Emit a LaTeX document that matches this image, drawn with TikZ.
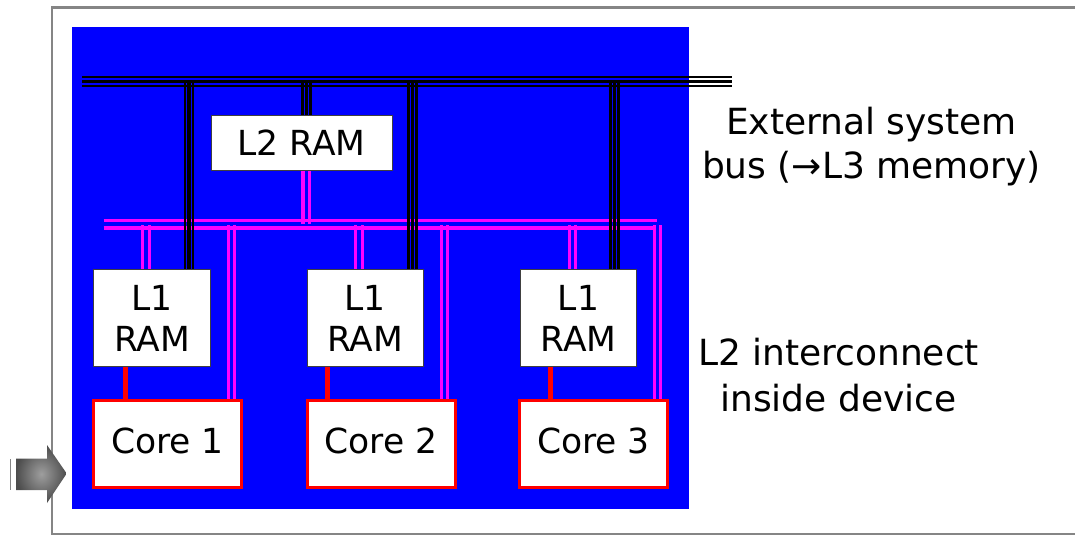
\documentclass[tikz,border=0pt]{standalone}
\usepackage{fontspec}
\setmainfont{DejaVu Sans}
\pgfdeclarelayer{background}
\pgfsetlayers{background,main}
\definecolor{framegray}{HTML}{858585}
\definecolor{chipblue}{HTML}{0000FF}
\definecolor{magpink}{HTML}{FF00FF}
\definecolor{corered}{HTML}{FF0000}
\definecolor{boxedge}{HTML}{404040}
\tikzset{
  ramnode/.style={draw=boxedge, line width=1pt, fill=white, inner sep=0pt,
    font=\fontsize{34.5}{41}\selectfont, align=center},
  corenode/.style={draw=corered, line width=3pt, fill=white, inner sep=0pt,
    minimum width=148pt, minimum height=87pt, text height=25pt, text depth=6pt,
    font=\fontsize{34.5}{41}\selectfont},
  sidelabel/.style={font=\fontsize{36}{44}\selectfont, anchor=base, inner sep=0pt},
  magline/.style={draw=magpink, line width=3.1pt},
  busthin/.style={draw=black, line width=2.1pt},
  busthick/.style={draw=black, line width=3.8pt},
  redlink/.style={draw=corered, line width=5pt},
  framestyle/.style={draw=framegray, line width=2.5pt},
}
\begin{document}
\begin{tikzpicture}[x=1pt,y=-1pt]
\useasboundingbox (0,0) rectangle (1075,535);

% boxes
\node[ramnode, minimum width=181pt, minimum height=55pt] (l2) at (301.5,143) {L2 RAM};
\node[ramnode, minimum width=117pt, minimum height=97pt] (l1a) at (152,318) {L1\\RAM};
\node[ramnode, minimum width=116pt, minimum height=97pt] (l1b) at (365,318) {L1\\RAM};
\node[ramnode, minimum width=116pt, minimum height=97pt] (l1c) at (578.5,318) {L1\\RAM};
\node[corenode] (c1) at (167.5,444) {Core 1};
\node[corenode] (c2) at (381,444) {Core 2};
\node[corenode] (c3) at (593.5,444) {Core 3};

% side labels
\node[sidelabel] (ext1) at (871.5,134) {External system};
\node[sidelabel] (ext2) at (871.5,178) {bus (→L3 memory)};
\node[sidelabel] (int1) at (838.5,365.7) {L2 interconnect};
\node[sidelabel] (int2) at (838.5,411.7) {inside device};

\begin{pgfonlayer}{background}
  % slide frame
  \draw[framestyle] (1078,7.5) -- (52,7.5) -- (52,533.8) -- (1078,533.8);
  % device
  \node[fill=chipblue, inner sep=0pt, minimum width=617pt, minimum height=482pt] (chip) at (380.5,268) {};

  % L2 interconnect (magenta)
  \coordinate (hbL) at (103.7,224.4);
  \coordinate (hbR) at (656,224.4);
  \draw[magline] ([yshift=3.7pt]hbL) -- ([yshift=3.7pt,xshift=1pt]hbR);
  \draw[magline] ([yshift=-3.6pt]hbL) -- ([yshift=-3.6pt,xshift=-1pt]hbR);
  \foreach \dx in {1.5,8}{
    \coordinate (mt) at ([xshift=\dx pt]l2.south);
    \draw[magline] (mt) -- (mt |- hbL);
  }
  \foreach \cx/\tgt in {146/l1a, 231.5/c1, 359/l1b, 444.5/c2, 572.5/l1c, 657.5/c3}{
    \foreach \dx in {-3.4,3.4}{
      \coordinate (mt) at ({\cx+\dx},225);
      \draw[magline] (mt) -- (mt |- \tgt.north);
    }
  }

  % external system bus (black)
  \coordinate (busL) at (82,81.5);
  \coordinate (busR) at (732,81.5);
  \draw[busthin] ([yshift=4.7pt]busL) -- ([yshift=4.7pt]busR);
  \draw[busthick] (busL) -- (busR);
  \draw[busthin] ([yshift=-4.3pt]busL) -- ([yshift=-4.3pt]busR);
  \foreach \cx/\tgt in {189/l1a, 306.5/l2, 412.5/l1b, 614.5/l1c}{
    \foreach \dx/\st in {-4/busthin, 0/busthick, 4/busthin}{
      \coordinate (bt) at ({\cx+\dx},81.5);
      \draw[\st] (bt) -- (bt |- \tgt.north);
    }
  }

  % L1 to core links (red)
  \foreach \dx/\src/\dst in {-27/l1a/c1, -37.5/l1b/c2, -27.8/l1c/c3}{
    \coordinate (rt) at ([xshift=\dx pt]\src.south);
    \draw[redlink] (rt) -- (rt |- \dst.north);
  }
\end{pgfonlayer}

% slide pointer arrow
\shade[inner color=black!38, outer color=black!70]
  (16,458.5) -- (47,458.5) -- (47,445) -- (66.7,473.5) -- (47,503) -- (47,490) -- (16,490) -- cycle;
\draw[framegray, line width=1pt] (10.7,459) -- (10.7,490);
\end{tikzpicture}
\end{document}
